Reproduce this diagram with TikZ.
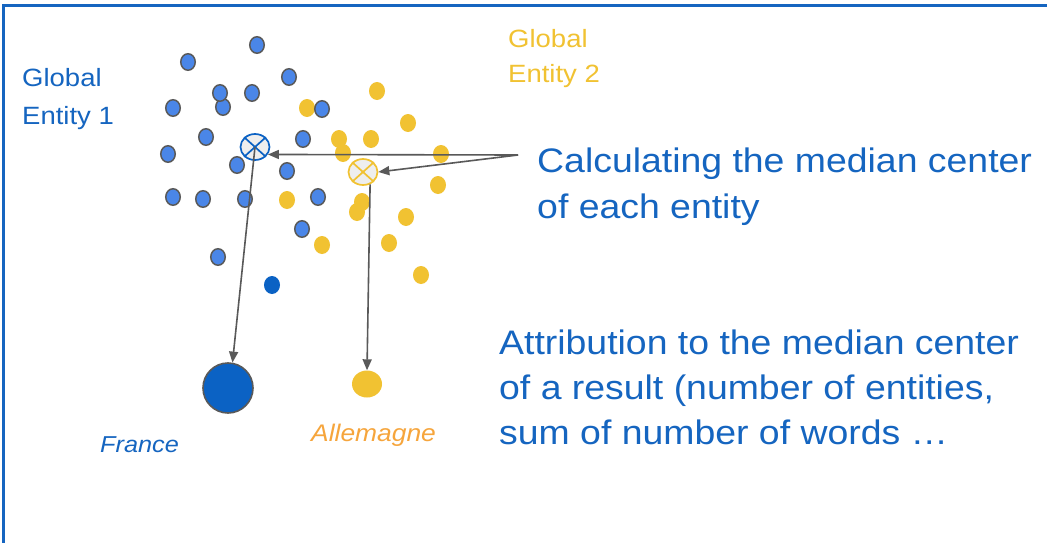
\documentclass[tikz,border=0pt]{standalone}
\usepackage{fontspec}
\setmainfont{Liberation Sans}[FakeStretch=1.1]
\usetikzlibrary{shapes.geometric,arrows.meta}
\definecolor{tblue}{HTML}{1565C0}
\definecolor{dotblue}{HTML}{4A86E8}
\definecolor{darkblue}{HTML}{0B62C4}
\definecolor{dotyellow}{HTML}{F1C232}
\definecolor{orangetxt}{HTML}{F6A53C}
\definecolor{edgegray}{HTML}{595959}
\definecolor{medfill}{HTML}{EEEEEE}
\tikzset{
  bdot/.style={ellipse, fill=dotblue, draw=edgegray, line width=1.5pt, minimum width=14.5pt, minimum height=16.5pt, inner sep=0pt},
  ydot/.style={ellipse, fill=dotyellow, minimum width=16pt, minimum height=18pt, inner sep=0pt},
  median/.style={ellipse, fill=medfill, line width=1.7pt, minimum width=29pt, minimum height=26pt, inner sep=0pt},
  arr/.style={draw=edgegray, line width=1.6pt, -{Triangle[length=11pt,width=9pt]}},
  txt/.style={anchor=base west, inner sep=0pt},
}
\begin{document}
\begin{tikzpicture}[x=1pt,y=-1pt]
\useasboundingbox (0,0) rectangle (1047,543);
\fill[white] (0,0) rectangle (1047,543);
\draw[tblue, line width=2.2pt] (3.5,543) -- (3.5,5.5) -- (1047,5.5);

% yellow dots
\foreach \p [count=\i] in {(377,91),(307,108),(408,123),(339,139),(371,139),(343,153),(441,154),(438,185),(287,200),(362,202),(357,212),(406,217),(389,243),(322,245),(421,275)}
  \node[ydot] (y\i) at \p {};
% blue dots
\foreach \p [count=\i] in {(257,45),(188,62),(289,77),(223,107),(220,93),(252,93),(173,108),(322,109),(206,137),(303,139),(168,154),(237,165),(287,171),(173,197),(203,199),(245,199),(318,197),(302,229),(218,257)}
  \node[bdot] (b\i) at \p {};
\node[ellipse, fill=darkblue, minimum width=16pt, minimum height=18pt, inner sep=0pt] (bd) at (272,285) {};

% median centers
\node[median, draw=darkblue] (m1) at (255,147) {};
\draw[darkblue, line width=1.7pt] (m1.north east) -- (m1.south west) (m1.north west) -- (m1.south east);
\node[median, draw=dotyellow] (m2) at (363,172) {};
\draw[dotyellow, line width=1.7pt] (m2.north east) -- (m2.south west) (m2.north west) -- (m2.south east);

% result symbols
\node[circle, fill=darkblue, draw=edgegray, line width=1.6pt, minimum size=50pt, inner sep=0pt] (fr) at (228,388) {};
\node[ellipse, fill=dotyellow, minimum width=30pt, minimum height=27pt, inner sep=0pt] (al) at (367,384) {};

% texts
\node[txt, text=tblue, font=\fontsize{25}{30}\selectfont] (g1a) at (22,87) {Global};
\node[txt, text=tblue, font=\fontsize{25}{30}\selectfont] (g1b) at (22,124) {Entity 1};
\node[txt, text=dotyellow, font=\fontsize{25}{30}\selectfont] (g2a) at (508,48) {Global};
\node[txt, text=dotyellow, font=\fontsize{25}{30}\selectfont] (g2b) at (508,83) {Entity 2};
\node[txt, text=tblue, font=\fontsize{34}{40}\selectfont] (c1) at (537,172) {Calculating the median center};
\node[txt, text=tblue, font=\fontsize{34}{40}\selectfont] (c2) at (537,218) {of each entity};
\node[txt, text=tblue, font=\fontsize{34}{40}\selectfont] (a1) at (499,354) {Attribution to the median center};
\node[txt, text=tblue, font=\fontsize{34}{40}\selectfont] (a2) at (499,399) {of a result (number of entities,};
\node[txt, text=tblue, font=\fontsize{34}{40}\selectfont] (a3) at (499,444) {sum of number of words …};
\node[txt, text=tblue, font=\itshape\fontsize{23}{28}\selectfont] (frt) at (100,452) {France};
\node[txt, text=orangetxt, font=\itshape\fontsize{24}{28}\selectfont] (alt) at (311,441) {Allemagne};

% connectors
\coordinate (src) at (518,155);
\draw[arr] (src) -- (m1.-30);
\draw[arr] (src) -- (m2.east);
\draw[arr] (m1.center) -- (fr.80);
\draw[arr] (m2.-60) -- (al.north);
\end{tikzpicture}
\end{document}
